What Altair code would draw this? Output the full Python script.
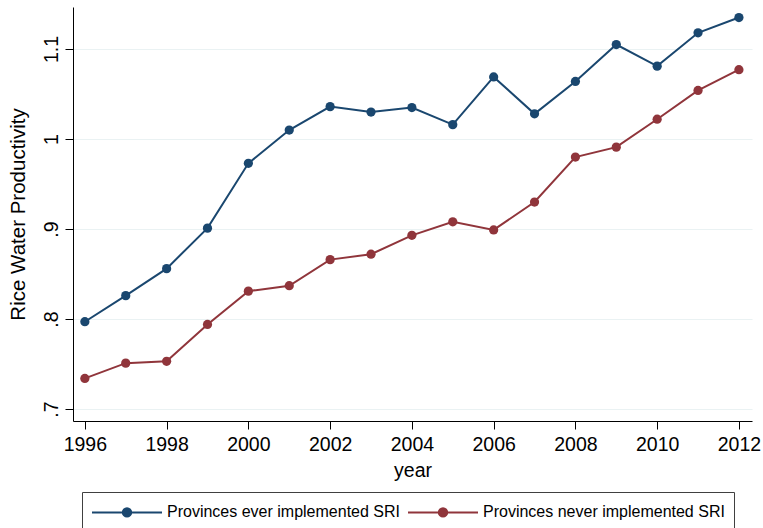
import altair as alt
import pandas as pd

years = list(range(1996, 2013))

ever_sri = [0.797, 0.826, 0.856, 0.901, 0.973, 1.010, 1.036, 1.030, 1.035,
            1.016, 1.069, 1.028, 1.064, 1.105, 1.081, 1.118, 1.135]
never_sri = [0.734, 0.751, 0.753, 0.794, 0.831, 0.837, 0.866, 0.872, 0.893,
             0.908, 0.899, 0.930, 0.980, 0.991, 1.022, 1.054, 1.077]

series_names = ["Provinces ever implemented SRI", "Provinces never implemented SRI"]
series_colors = ["#1a476f", "#90353b"]

df = pd.concat([
    pd.DataFrame({"year": years, "value": ever_sri, "group": series_names[0]}),
    pd.DataFrame({"year": years, "value": never_sri, "group": series_names[1]}),
])

FONT = "Liberation Sans"

# legend key: a line running right from the symbol origin, with a dot at its middle
key_path = ("M-1,0H6M2.08,0A0.42,0.42,0,1,1,2.92,0"
            "A0.42,0.42,0,1,1,2.08,0Z")

color = alt.Color(
    "group:N",
    scale=alt.Scale(domain=series_names, range=series_colors),
    sort=series_names,
    legend=alt.Legend(
        title=None,
        orient="none",
        legendX=9,
        legendY=485,
        direction="horizontal",
        columns=2,
        symbolType=key_path,
        symbolSize=400,
        symbolStrokeWidth=2,
        labelFont=FONT,
        labelFontSize=16,
        labelColor="#000000",
        labelOffset=54,
        labelLimit=400,
        columnPadding=4,
        padding=9,
        strokeColor="#404040",
        fillColor="#ffffff",
    ),
)

x = alt.X(
    "year:Q",
    scale=alt.Scale(domain=[1995.71, 2012.32], nice=False, zero=False),
    axis=alt.Axis(
        values=list(range(1996, 2013, 2)),
        format="d",
        title="year",
        grid=False,
        tickSize=8,
        labelPadding=6,
        titlePadding=8,
    ),
)

y = alt.Y(
    "value:Q",
    scale=alt.Scale(domain=[0.6867, 1.1467], nice=False, zero=False),
    axis=alt.Axis(
        values=[0.7, 0.8, 0.9, 1.0, 1.1],
        labelExpr="datum.value < 1 ? '.' + round(datum.value * 10) : format(datum.value, '~g')",
        title="Rice Water Productivity",
        titleFontSize=20.5,
        grid=True,
        gridColor="#eaf2f3",
        gridWidth=1.2,
        tickSize=8,
        labelAngle=270,
        labelAlign="center",
        labelBaseline="alphabetic",
        labelPadding=8,
        titlePadding=13,
    ),
)

lines = alt.Chart(df).mark_line(strokeWidth=2).encode(x=x, y=y, color=color)
dots = alt.Chart(df).mark_circle(size=85, opacity=1).encode(x=x, y=y, color=color)

chart = (
    alt.layer(lines, dots)
    .properties(
        width=679,
        height=414,
        autosize=alt.AutoSizeParams(type="none"),
        padding={"left": 73, "top": 7, "right": 11, "bottom": 107},
        background="#ffffff",
    )
    .configure_view(stroke=None)
    .configure_axis(
        domainColor="#000000",
        domainWidth=1,
        tickColor="#000000",
        tickWidth=1,
        labelFont=FONT,
        labelFontSize=19.5,
        labelColor="#000000",
        titleFont=FONT,
        titleFontSize=19.5,
        titleFontWeight="normal",
        titleColor="#000000",
    )
)

chart.save("out.html", embed_options={"renderer": "svg", "actions": False})
